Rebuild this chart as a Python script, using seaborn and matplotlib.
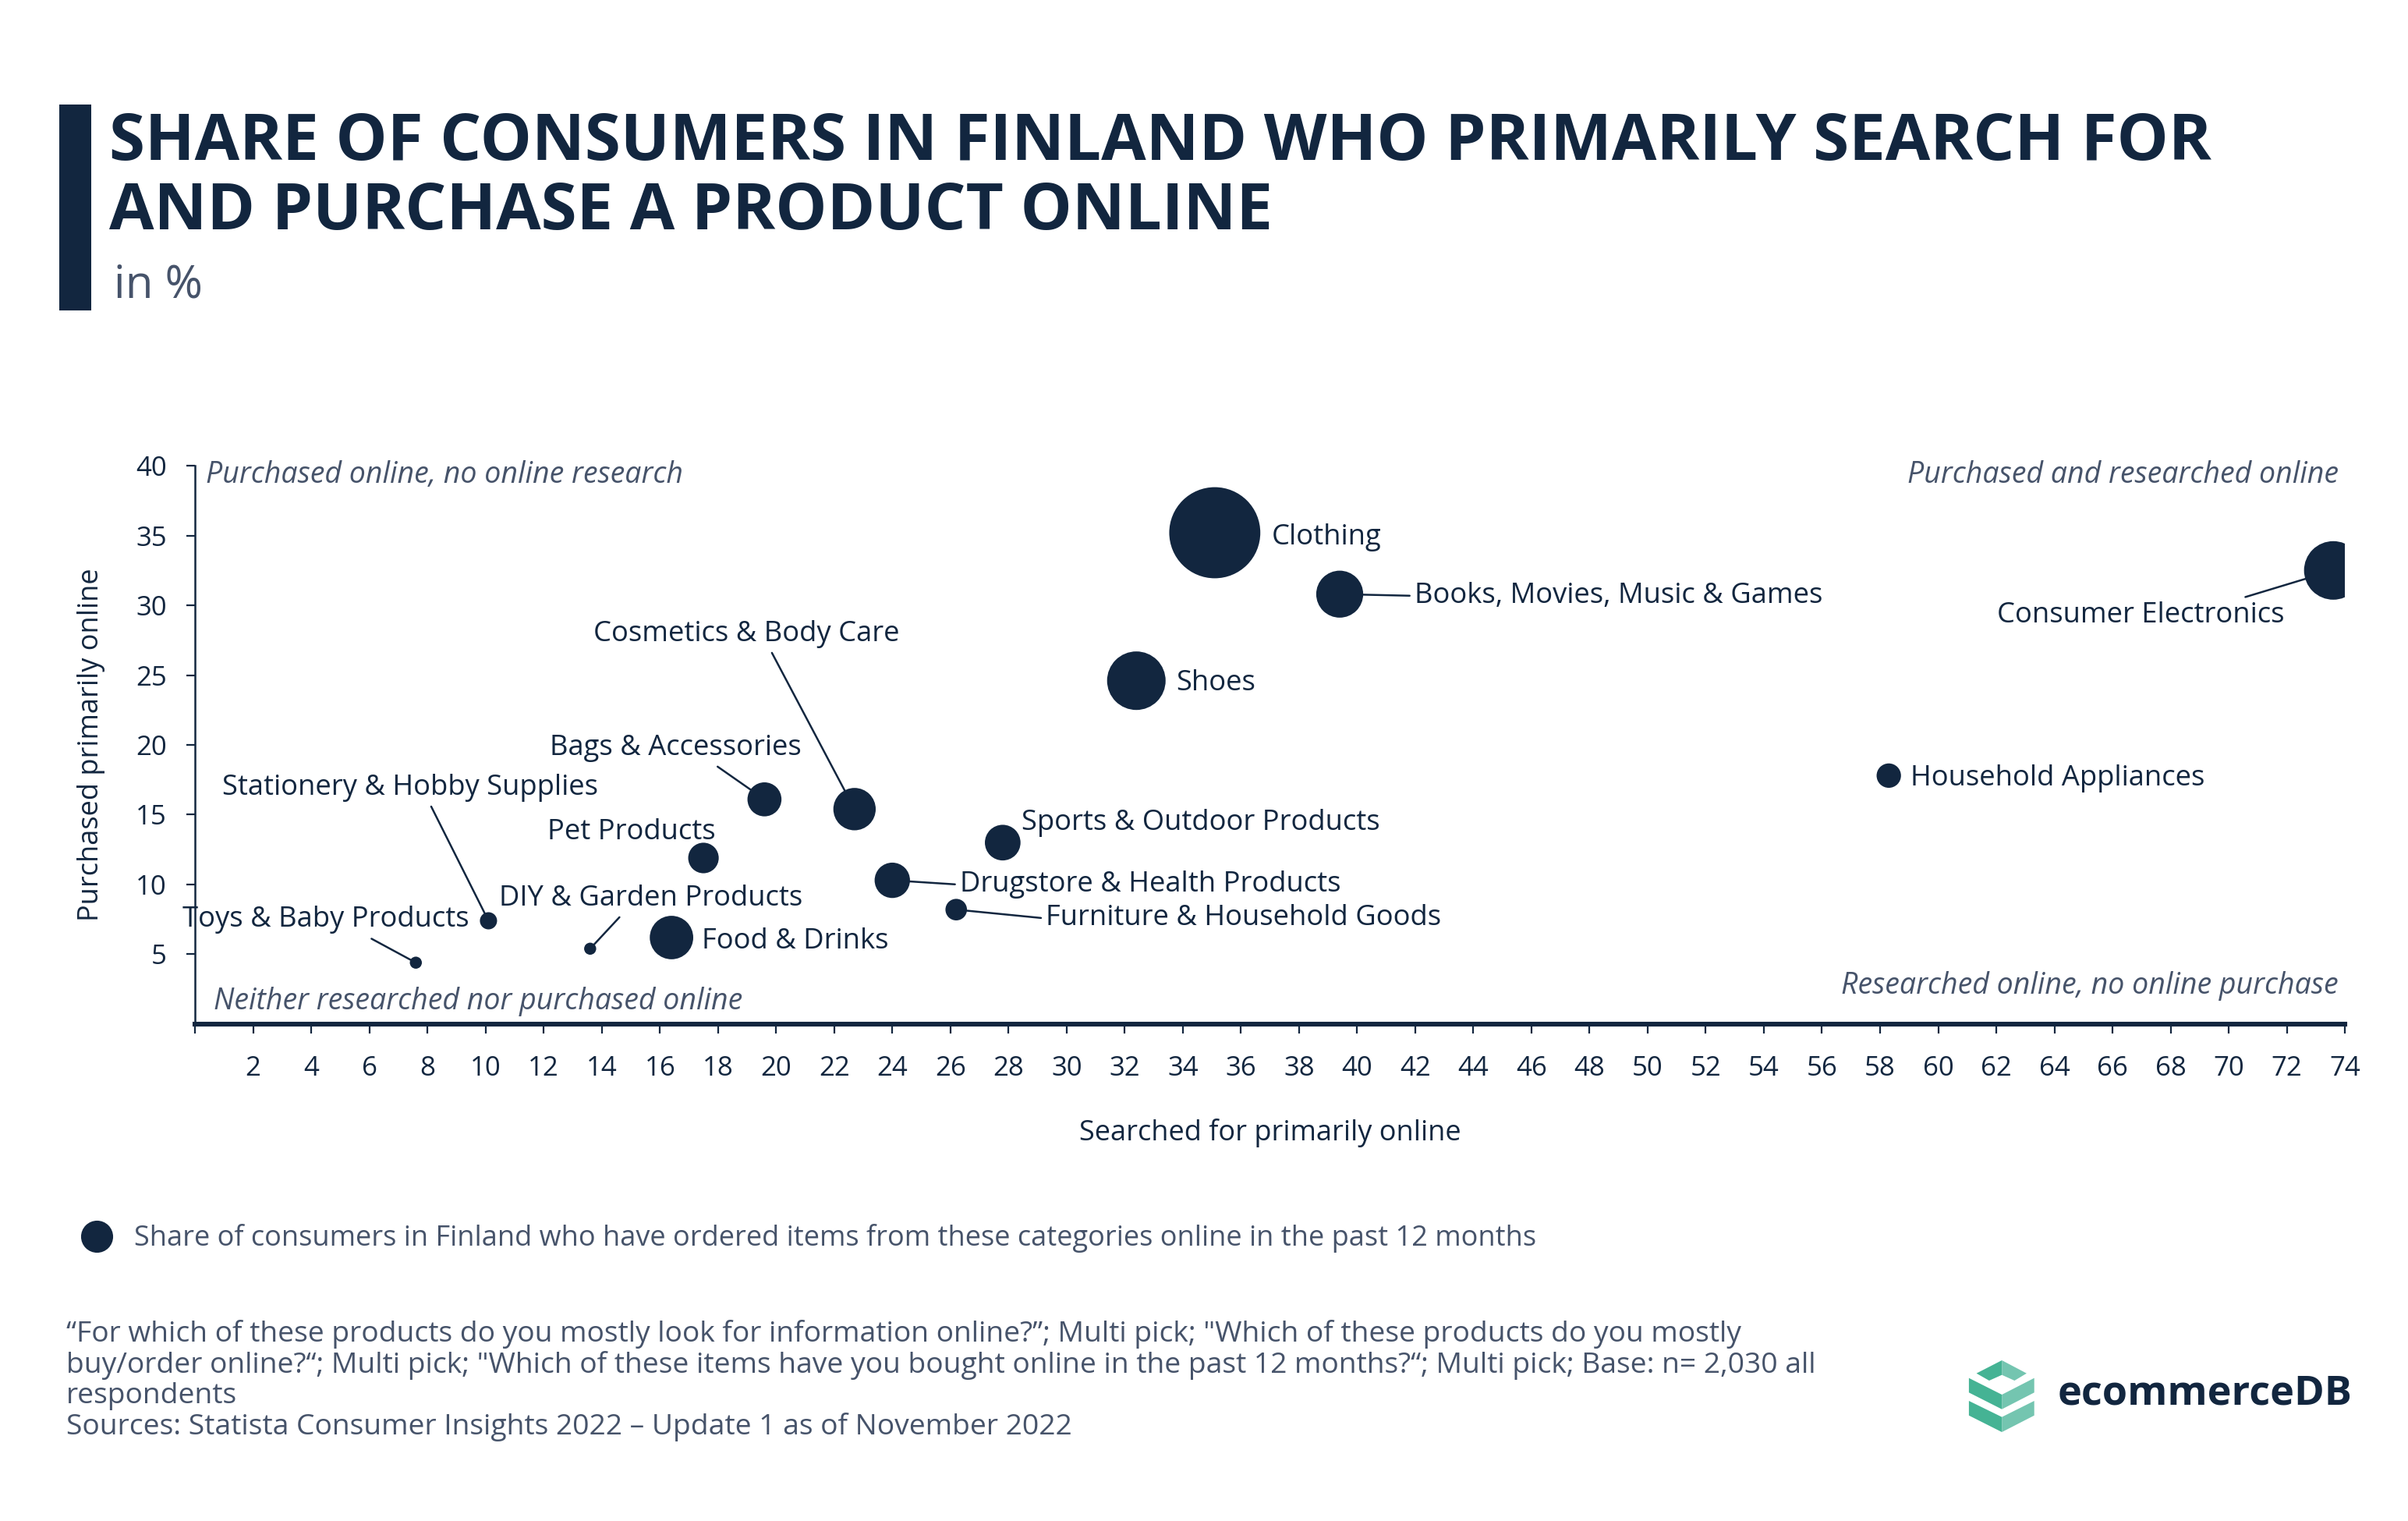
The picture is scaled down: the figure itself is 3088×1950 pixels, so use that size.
import numpy as np
import pandas as pd
import matplotlib
matplotlib.use("Agg")
import matplotlib.pyplot as plt
from matplotlib.lines import Line2D
from matplotlib.patches import Polygon, Rectangle
import seaborn as sns

# Data
categories = ["Clothing", "Books, Movies, Music & Games", "Consumer Electronics", "Shoes",
              "Household Appliances", "Bags & Accessories", "Cosmetics & Body Care",
              "Pet Products", "Sports & Outdoor Products", "Drugstore & Health Products",
              "Furniture & Household Goods", "Food & Drinks", "Stationery & Hobby Supplies",
              "DIY & Garden Products", "Toys & Baby Products"]
searched = [35.1, 39.4, 73.6, 32.4, 58.3, 19.6, 22.7, 17.5, 27.8, 24.0, 26.2, 16.4, 10.1, 13.6, 7.6]
purchased = [35.2, 30.8, 32.5, 24.6, 17.8, 16.1, 15.4, 11.9, 13.0, 10.3, 8.2, 6.2, 7.4, 5.4, 4.4]
# share who ordered in past 12 months (bubble size)
ordered = [52, 19.5, 26, 26, 10.9, 13.9, 17.3, 12.7, 14.5, 14.4, 10.2, 17.8, 9.3, 8.5, 8.5]

# label positions (data coords), alignment and leader line anchor on the text
label_x = [37.05, 41.97, 66.97, 33.78, 59.04, 16.54, 18.98, 15.01, 28.44, 26.32, 29.28, 17.44, 7.40, 15.70, 4.49]
label_y = [34.86, 30.68, 29.25, 24.41, 17.59, 19.79, 27.94, 13.74, 14.39, 9.99, 7.57, 5.92, 16.93, 9.00, 7.46]
label_ha = ["left", "left", "center", "left", "left", "center", "center", "center", "left",
            "left", "left", "left", "center", "center", "center"]
leader = [None, (0, 0.5), (0.81, 1.0), None, None, (0.64, 0), (0.575, 0), None, None,
          (0, 0.5), (0, 0.5), None, (0.55, 0), (0.41, 0), (0.63, 0)]

x_ticks = list(range(0, 76, 2))
y_ticks = [5, 10, 15, 20, 25, 30, 35, 40]

NAVY = "#12263f"
GREY = "#46536a"

df = pd.DataFrame({"category": categories, "searched": searched,
                   "purchased": purchased, "ordered": ordered})

sns.set_theme(style="white")
plt.rcParams["font.family"] = ["Open Sans", "DejaVu Sans"]

fig = plt.figure(figsize=(15.44, 9.75), dpi=200)
ax = fig.add_axes([0.081, 0.3267, 0.8928, 0.3671])

sns.scatterplot(data=df, x="searched", y="purchased", size="ordered",
                sizes=(31, 1768), size_norm=(8.5, 52), color=NAVY,
                linewidth=0, legend=False, ax=ax, zorder=4)

for i, name in enumerate(categories):
    kw = {}
    if leader[i] is not None:
        kw["arrowprops"] = dict(arrowstyle="-", color=NAVY, lw=0.9,
                                relpos=leader[i], shrinkA=0, shrinkB=0)
    ax.annotate(name, xy=(searched[i], purchased[i]), xytext=(label_x[i], label_y[i]),
                textcoords="data", ha=label_ha[i], va="center", fontsize=13.1,
                color=NAVY, zorder=3, **kw)

ax.set_xlim(0, 74)
ax.set_ylim(0, 40)
ax.set_xticks(x_ticks)
ax.set_xticklabels(["" if t == 0 else str(t) for t in x_ticks])
ax.set_yticks(y_ticks)
ax.tick_params(axis="x", direction="out", length=4.3, width=0.8, color=NAVY,
               labelsize=12.5, labelcolor=NAVY, pad=10, bottom=True)
ax.tick_params(axis="y", direction="out", length=4, width=0.8, color=NAVY,
               labelsize=12.5, labelcolor=NAVY, pad=9, left=True)
for side in ["top", "right"]:
    ax.spines[side].set_visible(False)
ax.spines["left"].set_color(NAVY)
ax.spines["left"].set_linewidth(0.9)
ax.spines["bottom"].set_color(NAVY)
ax.spines["bottom"].set_linewidth(2.2)
ax.set_xlabel("Searched for primarily online", fontsize=13, color=NAVY, labelpad=17)
ax.set_ylabel("Purchased primarily online", fontsize=13, color=NAVY, labelpad=14)

# quadrant notes
qkw = dict(transform=ax.transAxes, fontsize=13.5, style="italic", color=GREY, va="center")
ax.text(0.005, 0.983, "Purchased online, no online research", ha="left", **qkw)
ax.text(0.997, 0.983, "Purchased and researched online", ha="right", **qkw)
ax.text(0.0086, 0.041, "Neither researched nor purchased online", ha="left", **qkw)
ax.text(0.997, 0.068, "Researched online, no online purchase", ha="right", **qkw)

# title block
fig.add_artist(Rectangle((76 / 3088, 1 - 398 / 1950), 41 / 3088, 264 / 1950,
                         transform=fig.transFigure, color=NAVY, lw=0))
fig.text(140 / 3088, 1 - 205 / 1950, "SHARE OF CONSUMERS IN FINLAND WHO PRIMARILY SEARCH FOR",
         fontsize=30, fontweight="bold", color=NAVY, va="baseline")
fig.text(140 / 3088, 1 - 294 / 1950, "AND PURCHASE A PRODUCT ONLINE",
         fontsize=30, fontweight="bold", color=NAVY, va="baseline")
fig.text(146 / 3088, 1 - 381 / 1950, "in %", fontsize=21, color=GREY, va="baseline")

# legend
handle = Line2D([], [], marker="o", linestyle="none", markersize=14.8,
                markerfacecolor=NAVY, markeredgewidth=0)
fig.legend([handle], ["Share of consumers in Finland who have ordered items from these categories online in the past 12 months"],
           loc="center left", bbox_to_anchor=(0.0344, 1 - 1588 / 1950), frameon=False,
           fontsize=13, labelcolor=GREY, handletextpad=0.83, borderpad=0, borderaxespad=0,
           handlelength=1.0)

# footer
fig.text(0.0275, 1 - 1692 / 1950,
         "\u201cFor which of these products do you mostly look for information online?\u201d; Multi pick; \"Which of these products do you mostly\n"
         "buy/order online?\u201c; Multi pick; \"Which of these items have you bought online in the past 12 months?\u201c; Multi pick; Base: n= 2,030 all\n"
         "respondents\n"
         "Sources: Statista Consumer Insights 2022 \u2013 Update 1 as of November 2022",
         fontsize=13.4, color=GREY, va="top", linespacing=1.11)

# logo
def px(x, y):
    return (x / 3088, 1 - y / 1950)

DARK_G = "#45b394"
LIGHT_G = "#74c5b0"
shapes = [
    ([(2534.6, 1760.7), (2567.2, 1744), (2567.2, 1762.7), (2550.9, 1770)],
     [(2567.2, 1744), (2598.9, 1760.7), (2583.4, 1770), (2567.2, 1762.7)]),
    ([(2524.9, 1766.7), (2567.2, 1788), (2567.2, 1806.7), (2524.9, 1785.3)],
     [(2567.2, 1788), (2608.7, 1766.7), (2608.7, 1785.3), (2567.2, 1806.7)]),
    ([(2524.9, 1796), (2567.2, 1816.7), (2567.2, 1836), (2524.9, 1814.7)],
     [(2567.2, 1816.7), (2608.7, 1796), (2608.7, 1814.7), (2567.2, 1836)]),
]
for left, right in shapes:
    fig.add_artist(Polygon([px(*p) for p in left], closed=True, transform=fig.transFigure,
                           color=DARK_G, lw=0))
    fig.add_artist(Polygon([px(*p) for p in right], closed=True, transform=fig.transFigure,
                           color=LIGHT_G, lw=0))
fig.text(2639 / 3088, 1 - 1787 / 1950, "ecommerceDB", fontsize=18.8, fontweight="bold",
         color=NAVY, va="center", ha="left")

fig.savefig("out.png", dpi=200)
